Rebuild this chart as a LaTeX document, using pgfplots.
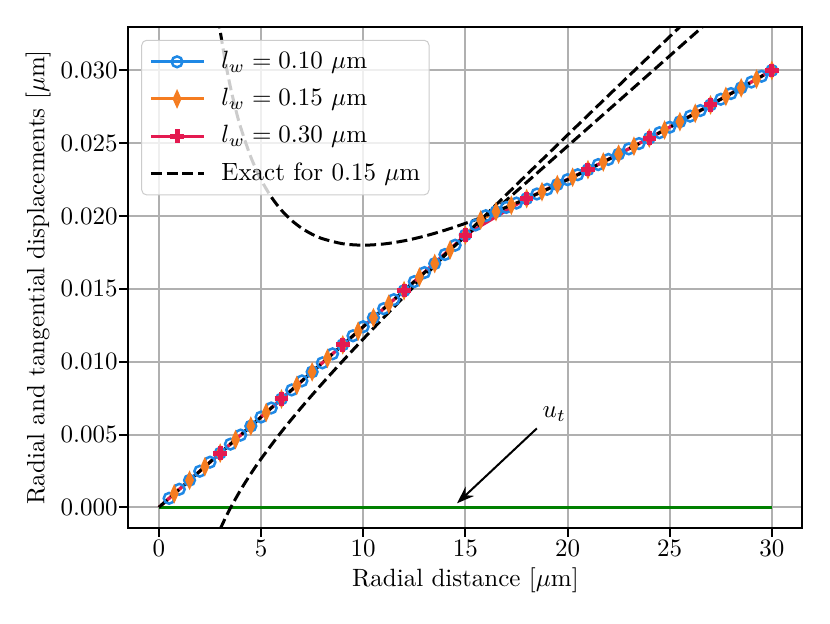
\documentclass[border=0pt]{standalone}
\usepackage{pgfplots}
\pgfplotsset{compat=1.18}
\usetikzlibrary{arrows.meta}
\definecolor{cblue}{RGB}{30,136,229}
\definecolor{corange}{RGB}{245,124,32}
\definecolor{cred}{RGB}{228,26,80}
\definecolor{cgreen}{RGB}{0,128,0}
\definecolor{gridgray}{RGB}{176,176,176}
\definecolor{legframe}{RGB}{204,204,204}
\begin{document}
\begin{tikzpicture}
\begin{axis}[
  scale only axis, width=269.7pt, height=200.5pt,
  xmin=-1.5, xmax=31.5, ymin=-0.00142, ymax=0.0330,
  xtick={0,5,10,15,20,25,30},
  ytick={0,0.005,0.010,0.015,0.020,0.025,0.030},
  scaled y ticks=false,
  yticklabel style={xshift=2.8pt, /pgf/number format/.cd, fixed, fixed zerofill, precision=3},
  xticklabel style={yshift=2pt},
  tick align=outside, tick pos=left, major tick length=3.5pt,
  every tick/.style={black, line width=0.8pt},
  axis line style={line width=0.8pt},
  grid=major, major grid style={gridgray, line width=0.8pt},
  xlabel={Radial distance [$\mu$m]},
  ylabel={Radial and tangential displacements [$\mu$m]},
  every axis x label/.style={at={(axis description cs:0.5,-0.1037)}, anchor=center},
  every axis y label/.style={at={(axis description cs:-0.1335,0.5)}, anchor=center, rotate=90},
  legend cell align=left,
  legend style={at={(0,1)}, anchor=north west, xshift=5.2pt, yshift=-5.2pt,
    draw=legframe, rounded corners=2pt, fill=white, fill opacity=0.8, text opacity=1,
    row sep=2.4pt, inner xsep=3pt, inner ysep=2.4pt, font=\normalsize,
    nodes={inner xsep=0.5pt},
    /tikz/every odd column/.append style={column sep=6.0pt}},
  legend image code/.code={\draw[mark repeat=2,mark phase=2] plot coordinates {(0cm,0cm) (0.37cm,0cm) (0.745cm,0cm)};},
]
% l_w = 0.10
\addplot[cblue, line width=1.2pt, mark=o, mark size=2.15pt, mark repeat=1, mark phase=2,
  mark options={line width=1pt, fill=none, solid}] coordinates {
(0,0) (0.5,0.00062) (1,0.00124) (1.5,0.00186) (2,0.00248) (2.5,0.0031) (3,0.00372)
(3.5,0.00434) (4,0.00496) (4.5,0.00558) (5,0.0062) (5.5,0.00682) (6,0.00744)
(6.5,0.00806) (7,0.00868) (7.5,0.0093) (8,0.00992) (8.5,0.01054) (9,0.01116)
(9.5,0.01178) (10,0.0124) (10.5,0.01302) (11,0.01364) (11.5,0.01426) (12,0.01488)
(12.5,0.0155) (13,0.01612) (13.5,0.01674) (14,0.01736) (14.5,0.01800) (15,0.01870)
(15.5,0.01939) (16,0.020025) (16.5,0.020305) (17,0.020594) (17.5,0.020893) (18,0.0212)
(18.5,0.021515) (19,0.021837) (19.5,0.022165) (20,0.0225) (20.5,0.02284) (21,0.023186)
(21.5,0.023536) (22,0.023891) (22.5,0.02425) (23,0.024613) (23.5,0.02498) (24,0.02535)
(24.5,0.025724) (25,0.0261) (25.5,0.026479) (26,0.026862) (26.5,0.027246) (27,0.027633)
(27.5,0.028023) (28,0.028414) (28.5,0.028808) (29,0.029203) (29.5,0.029601) (30,0.030)
};
\addlegendentry{$l_w = 0.10\ \mu$m}
% l_w = 0.15
\addplot[corange, line width=1.2pt, mark=diamond*, mark size=2.5pt, mark repeat=1, mark phase=2,
  mark options={xscale=0.6, solid}] coordinates {
(0,0) (0.75,0.00093) (1.5,0.00186) (2.25,0.00279) (3,0.00372) (3.75,0.00465) (4.5,0.00558)
(5.25,0.00651) (6,0.00744) (6.75,0.00837) (7.5,0.0093) (8.25,0.01023) (9,0.01116)
(9.75,0.01209) (10.5,0.01302) (11.25,0.01395) (12,0.01488) (12.75,0.01581) (13.5,0.01674)
(14.25,0.01767) (15,0.01870) (15.75,0.019737) (16.5,0.020305) (17.25,0.020742) (18,0.0212)
(18.75,0.021675) (19.5,0.022165) (20.25,0.022669) (21,0.023186) (21.75,0.023713) (22.5,0.02425)
(23.25,0.024796) (24,0.02535) (24.75,0.025911) (25.5,0.026479) (26.25,0.027054) (27,0.027633)
(27.75,0.028218) (28.5,0.028808) (29.25,0.029402) (30,0.030)
};
\addlegendentry{$l_w = 0.15\ \mu$m}
% l_w = 0.30
\addplot[cred, line width=1.2pt, mark=+, mark size=2.7pt, mark repeat=1, mark phase=2,
  mark options={line width=2pt, solid}] coordinates {
(0,0) (3,0.00372) (6,0.00744) (9,0.01116) (12,0.01488) (15,0.0187) (18,0.0212)
(21,0.023186) (24,0.02535) (27,0.027633) (30,0.030)
};
\addlegendentry{$l_w = 0.30\ \mu$m}
% tangential displacement
\addplot[cgreen, line width=1.2pt, forget plot] coordinates {(0,0) (30,0)};
% exact solutions
\addplot[black, line width=1.2pt, dash pattern=on 4.4pt off 1.9pt] coordinates {
(0,0) (30,0.0372)
};
\addlegendentry{Exact for 0.15 $\mu$m}
\addplot[black, line width=1.2pt, dash pattern=on 4.4pt off 1.9pt, forget plot, smooth] coordinates {
(2.9,0.033644) (3,0.0327) (3.25,0.030617) (3.5,0.028864) (3.75,0.027375) (4,0.0261)
(4.5,0.02405) (5,0.0225) (5.5,0.021314) (6,0.0204) (6.5,0.019696) (7,0.019157)
(7.5,0.01875) (8,0.01845) (9,0.0181) (10,0.018) (11,0.018082) (12,0.0183) (13,0.018623)
(14,0.019029) (15,0.0195) (16,0.020025) (18,0.0212) (20,0.0225) (22,0.023891)
(24,0.02535) (26,0.026862) (28,0.028414) (30,0.03)
};
\addplot[black, line width=1.2pt, dash pattern=on 4.4pt off 1.9pt, forget plot, smooth] coordinates {
(3,-0.00149) (3.25,-0.000741) (3.5,-0.000052) (4,0.001191) (4.5,0.002304) (5,0.003327)
(6,0.005191) (7,0.006899) (8,0.00851) (9,0.010055) (10,0.011556) (11,0.013024)
(12,0.014466) (13,0.01589) (14,0.017299) (15,0.018696) (16,0.020083) (18,0.022834)
(20,0.025563) (22,0.028275) (24,0.030975) (26,0.033666)
};
\draw[-{Stealth[length=7pt,width=5pt]}, line width=0.8pt] (axis cs:18.5,0.00542) -- (axis cs:14.59,0.000275);
\node at (axis cs:19.35,0.0064) {$u_t$};
\end{axis}
\pgfresetboundingbox
\path[use as bounding box] ([shift={(-51.3pt,-38pt)}]current axis.south west) rectangle ([shift={(11pt,10.7pt)}]current axis.north east);
\end{tikzpicture}
\end{document}
